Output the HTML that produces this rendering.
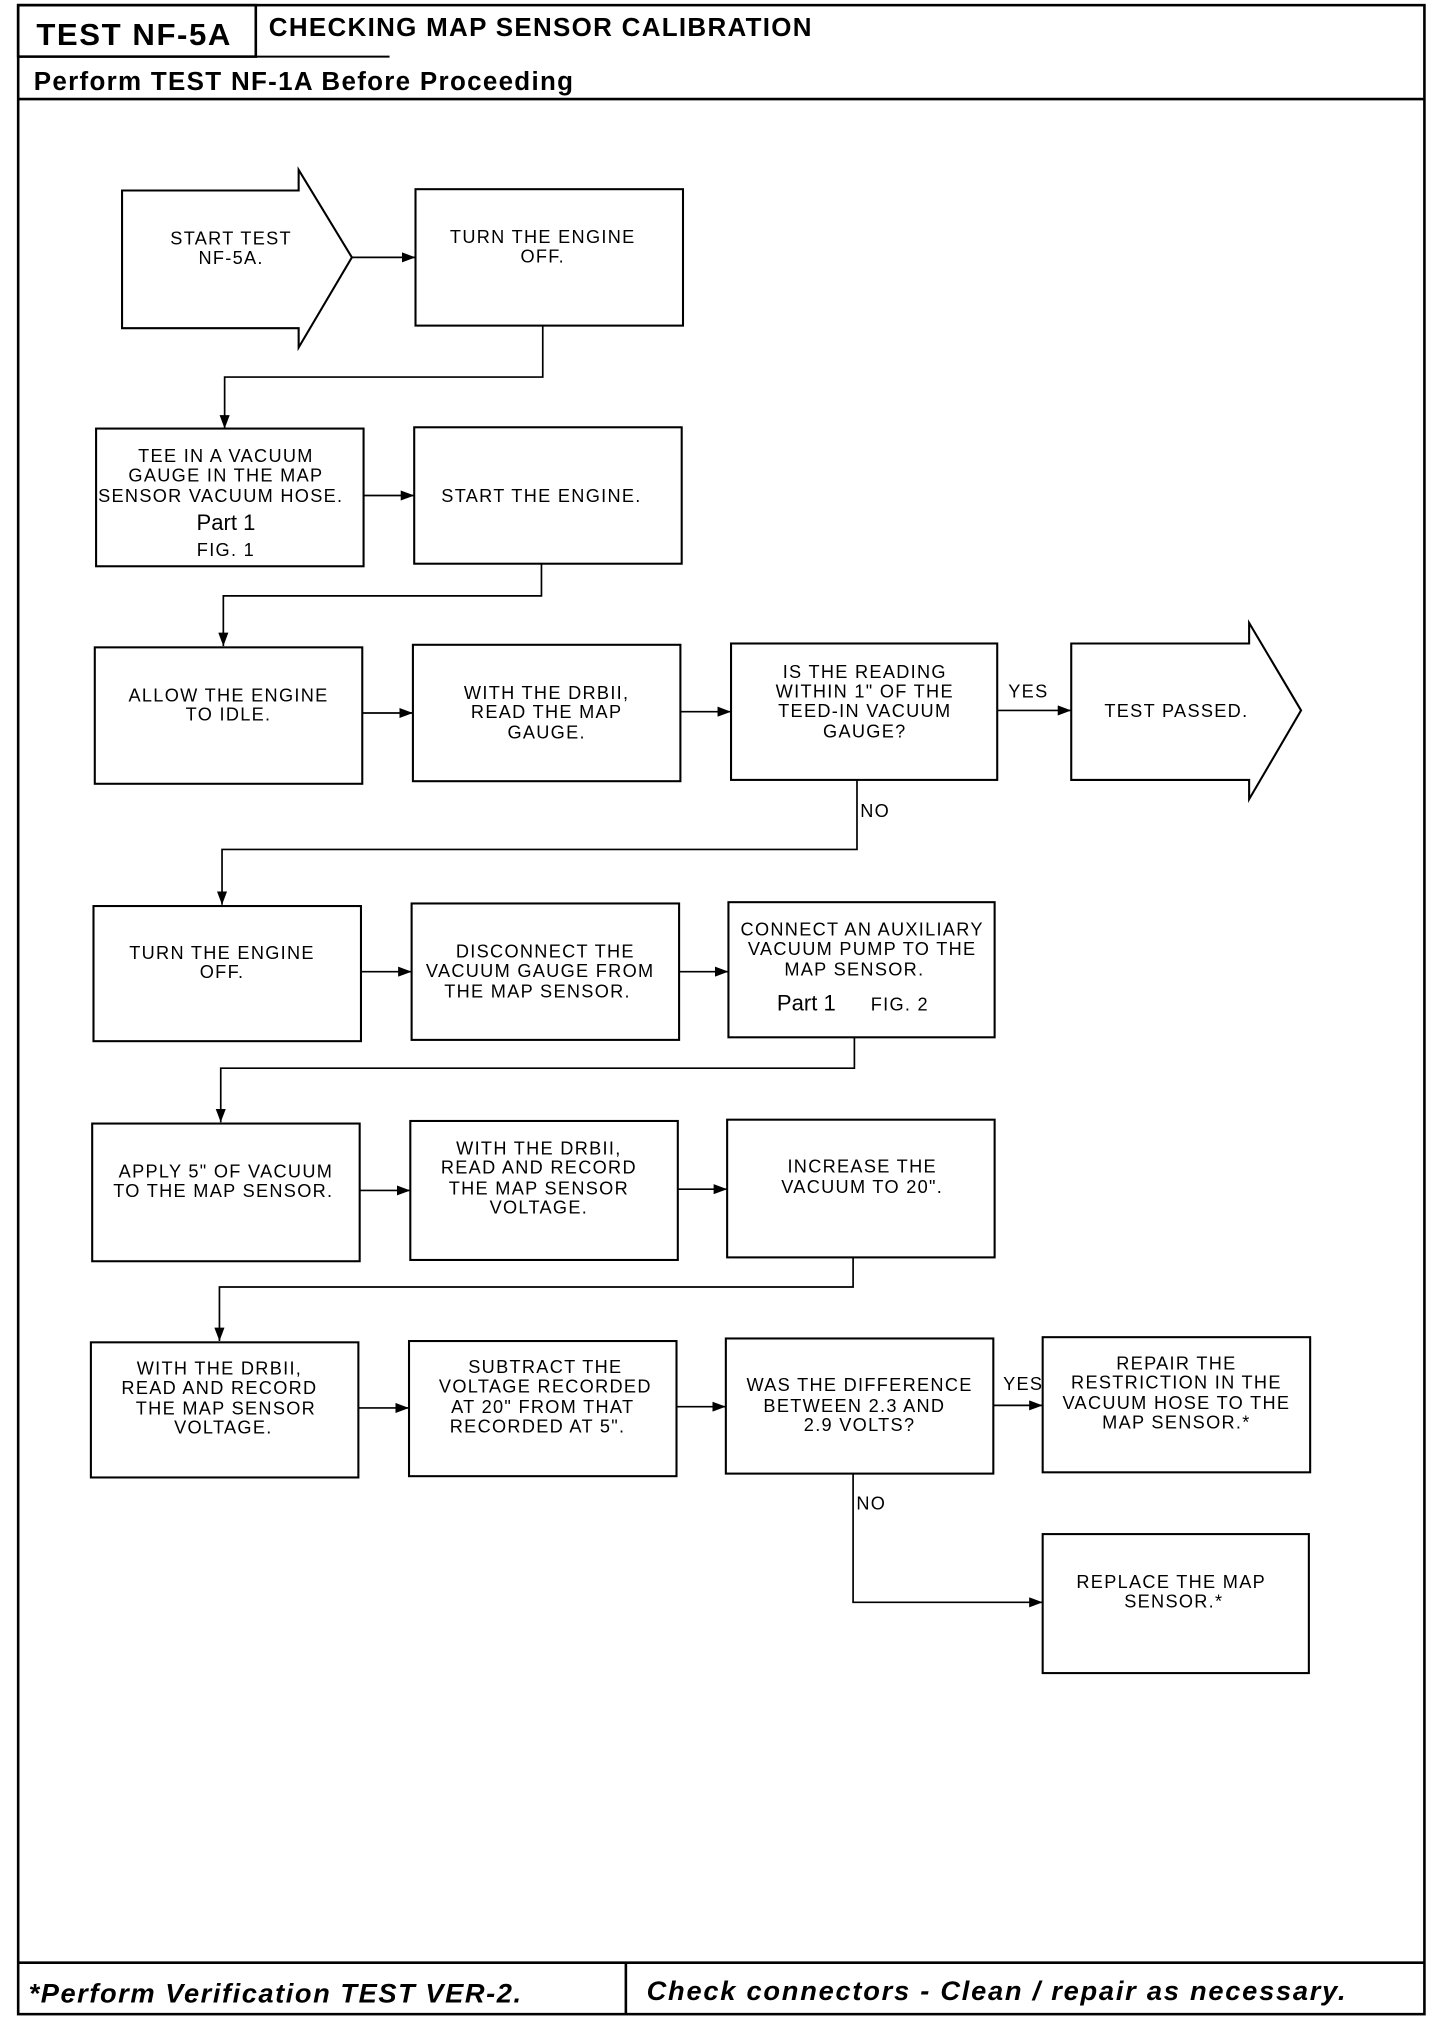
<!DOCTYPE html>
<html><head><meta charset="utf-8"><style>
html,body{margin:0;padding:0;background:#fff;width:1440px;height:2018px;overflow:hidden}
svg{display:block}
.t{font-family:"Liberation Sans",sans-serif;font-size:14px;letter-spacing:1px;text-anchor:middle;fill:#000}
.b{fill:#fff;stroke:#000;stroke-width:1.6}
.l{fill:none;stroke:#000;stroke-width:1.3}
</style></head><body>
<svg width="1440" height="2018" viewBox="0 0 1109 1568" preserveAspectRatio="none" xmlns="http://www.w3.org/2000/svg">
<defs><marker id="a" markerWidth="8" markerHeight="6" refX="8" refY="3" orient="auto"><path d="M0,0 L8,3 L0,6 z" fill="#000"/></marker></defs>
<!-- frame -->
<rect x="14" y="4" width="1083" height="1561" fill="none" stroke="#000" stroke-width="2"/>
<rect x="14" y="4" width="183" height="40" fill="none" stroke="#000" stroke-width="2"/>
<line x1="197" y1="44" x2="300" y2="44" stroke="#000" stroke-width="1.5"/>
<line x1="14" y1="77" x2="1097" y2="77" stroke="#000" stroke-width="2"/>
<text x="28" y="35" style="font-family:'Liberation Sans',sans-serif;font-weight:bold;font-size:24px;letter-spacing:1.2px">TEST NF-5A</text>
<text x="207" y="28" style="font-family:'Liberation Sans',sans-serif;font-weight:bold;font-size:20px;letter-spacing:1px">CHECKING MAP SENSOR CALIBRATION</text>
<text x="26" y="70" style="font-family:'Liberation Sans',sans-serif;font-weight:bold;font-size:20px;letter-spacing:1px">Perform TEST NF-1A Before Proceeding</text>
<line x1="14" y1="1525" x2="1097" y2="1525" stroke="#000" stroke-width="2"/>
<line x1="482" y1="1525" x2="482" y2="1565" stroke="#000" stroke-width="2"/>
<text x="22" y="1556" style="font-family:'Liberation Sans',sans-serif;font-weight:bold;font-style:italic;font-size:21px;letter-spacing:1.2px">*Perform Verification TEST VER-2.</text>
<text x="498" y="1554" style="font-family:'Liberation Sans',sans-serif;font-weight:bold;font-style:italic;font-size:21px;letter-spacing:1.35px">Check connectors - Clean / repair as necessary.</text>

<!-- start arrow -->
<path class="b" d="M94,148 L230,148 L230,132 L271,200 L230,270 L230,255 L94,255 Z"/>
<text class="t" x="178" y="190">START TEST</text><text class="t" x="178" y="205">NF-5A.</text>
<rect class="b" x="320" y="147" width="206" height="106"/>
<text class="t" x="418" y="189">TURN THE ENGINE</text><text class="t" x="418" y="204">OFF.</text>
<line class="l" x1="271" y1="200" x2="320" y2="200" marker-end="url(#a)"/>
<polyline class="l" points="418,253 418,293 173,293 173,333" marker-end="url(#a)"/>

<rect class="b" x="74" y="333" width="206" height="107"/>
<text class="t" x="174" y="359">TEE IN A VACUUM</text><text class="t" x="174" y="374">GAUGE IN THE MAP</text><text class="t" x="170" y="390">SENSOR VACUUM HOSE.</text>
<text x="174" y="412" text-anchor="middle" style="font-family:'Liberation Sans',sans-serif;font-size:17px">Part 1</text>
<text class="t" x="174" y="432">FIG. 1</text>
<rect class="b" x="319" y="332" width="206" height="106"/>
<text class="t" x="417" y="390">START THE ENGINE.</text>
<line class="l" x1="280" y1="385" x2="319" y2="385" marker-end="url(#a)"/>
<polyline class="l" points="417,438 417,463 172,463 172,502" marker-end="url(#a)"/>

<rect class="b" x="73" y="503" width="206" height="106"/>
<text class="t" x="176" y="545">ALLOW THE ENGINE</text><text class="t" x="176" y="560">TO IDLE.</text>
<rect class="b" x="318" y="501" width="206" height="106"/>
<text class="t" x="421" y="543">WITH THE DRBII,</text><text class="t" x="421" y="558">READ THE MAP</text><text class="t" x="421" y="574">GAUGE.</text>
<rect class="b" x="563" y="500" width="205" height="106"/>
<text class="t" x="666" y="527">IS THE READING</text><text class="t" x="666" y="542">WITHIN 1" OF THE</text><text class="t" x="666" y="557">TEED-IN VACUUM</text><text class="t" x="666" y="573">GAUGE?</text>
<path class="b" d="M825,500 L962,500 L962,484 L1002,552 L962,621 L962,606 L825,606 Z"/>
<text class="t" x="906" y="557">TEST PASSED.</text>
<line class="l" x1="279" y1="554" x2="318" y2="554" marker-end="url(#a)"/>
<line class="l" x1="524" y1="553" x2="563" y2="553" marker-end="url(#a)"/>
<line class="l" x1="768" y1="552" x2="825" y2="552" marker-end="url(#a)"/>
<text class="t" x="792" y="542">YES</text>
<text class="t" x="674" y="635">NO</text>
<polyline class="l" points="660,606 660,660 171,660 171,703" marker-end="url(#a)"/>

<rect class="b" x="72" y="704" width="206" height="105"/>
<text class="t" x="171" y="745">TURN THE ENGINE</text><text class="t" x="171" y="760">OFF.</text>
<rect class="b" x="317" y="702" width="206" height="106"/>
<text class="t" x="420" y="744">DISCONNECT THE</text><text class="t" x="416" y="759">VACUUM GAUGE FROM</text><text class="t" x="414" y="775">THE MAP SENSOR.</text>
<rect class="b" x="561" y="701" width="205" height="105"/>
<text class="t" x="664" y="727">CONNECT AN AUXILIARY</text><text class="t" x="664" y="742">VACUUM PUMP TO THE</text><text class="t" x="658" y="758">MAP SENSOR.</text>
<text x="621" y="785" text-anchor="middle" style="font-family:'Liberation Sans',sans-serif;font-size:17px">Part 1</text>
<text class="t" x="693" y="785">FIG. 2</text>
<line class="l" x1="278" y1="755" x2="317" y2="755" marker-end="url(#a)"/>
<line class="l" x1="523" y1="755" x2="561" y2="755" marker-end="url(#a)"/>
<polyline class="l" points="658,806 658,830 170,830 170,872" marker-end="url(#a)"/>

<rect class="b" x="71" y="873" width="206" height="107"/>
<text class="t" x="174" y="915">APPLY 5" OF VACUUM</text><text class="t" x="172" y="930">TO THE MAP SENSOR.</text>
<rect class="b" x="316" y="871" width="206" height="108"/>
<text class="t" x="415" y="897">WITH THE DRBII,</text><text class="t" x="415" y="912">READ AND RECORD</text><text class="t" x="415" y="928">THE MAP SENSOR</text><text class="t" x="415" y="943">VOLTAGE.</text>
<rect class="b" x="560" y="870" width="206" height="107"/>
<text class="t" x="664" y="911">INCREASE THE</text><text class="t" x="664" y="927">VACUUM TO 20".</text>
<line class="l" x1="277" y1="925" x2="316" y2="925" marker-end="url(#a)"/>
<line class="l" x1="522" y1="924" x2="560" y2="924" marker-end="url(#a)"/>
<polyline class="l" points="657,977 657,1000 169,1000 169,1042" marker-end="url(#a)"/>

<rect class="b" x="70" y="1043" width="206" height="105"/>
<text class="t" x="169" y="1068">WITH THE DRBII,</text><text class="t" x="169" y="1083">READ AND RECORD</text><text class="t" x="174" y="1099">THE MAP SENSOR</text><text class="t" x="172" y="1114">VOLTAGE.</text>
<rect class="b" x="315" y="1042" width="206" height="105"/>
<text class="t" x="420" y="1067">SUBTRACT THE</text><text class="t" x="420" y="1082">VOLTAGE RECORDED</text><text class="t" x="418" y="1098">AT 20" FROM THAT</text><text class="t" x="414" y="1113">RECORDED AT 5".</text>
<rect class="b" x="559" y="1040" width="206" height="105"/>
<text class="t" x="662" y="1081">WAS THE DIFFERENCE</text><text class="t" x="658" y="1097">BETWEEN 2.3 AND</text><text class="t" x="662" y="1112">2.9 VOLTS?</text>
<rect class="b" x="803" y="1039" width="206" height="105"/>
<text class="t" x="906" y="1064">REPAIR THE</text><text class="t" x="906" y="1079">RESTRICTION IN THE</text><text class="t" x="906" y="1095">VACUUM HOSE TO THE</text><text class="t" x="906" y="1110">MAP SENSOR.*</text>
<line class="l" x1="276" y1="1094" x2="315" y2="1094" marker-end="url(#a)"/>
<line class="l" x1="521" y1="1093" x2="559" y2="1093" marker-end="url(#a)"/>
<line class="l" x1="765" y1="1092" x2="803" y2="1092" marker-end="url(#a)"/>
<text class="t" x="788" y="1080">YES</text>
<text class="t" x="671" y="1173">NO</text>
<polyline class="l" points="657,1145 657,1245 803,1245" marker-end="url(#a)"/>
<rect class="b" x="803" y="1192" width="205" height="108"/>
<text class="t" x="902" y="1234">REPLACE THE MAP</text><text class="t" x="904" y="1249">SENSOR.*</text>
</svg>
</body></html>
